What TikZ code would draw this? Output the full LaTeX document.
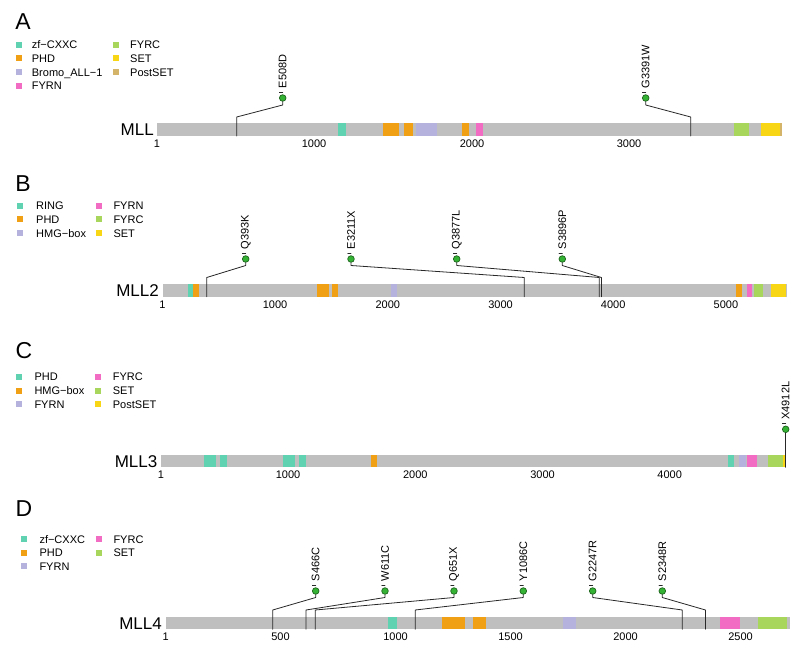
\documentclass[tikz,border=0pt]{standalone}
\usepackage{fontspec}
\setmainfont{Liberation Sans}

\definecolor{bargray}{RGB}{191,191,191}
\definecolor{dteal}{RGB}{96,210,178}
\definecolor{dorange}{RGB}{240,160,20}
\definecolor{dlav}{RGB}{182,178,222}
\definecolor{dpink}{RGB}{242,108,196}
\definecolor{dgreen}{RGB}{168,214,92}
\definecolor{dyellow}{RGB}{248,214,22}
\definecolor{dtan}{RGB}{212,180,104}
\definecolor{popfill}{RGB}{52,178,52}
\definecolor{popline}{RGB}{28,100,28}
\definecolor{stemcol}{RGB}{40,40,40}

\begin{document}
\begin{tikzpicture}[x=1pt,y=-1pt,line cap=round,line join=round,
  protbar/.style={fill=bargray},
  stem/.style={draw=stemcol,line width=0.8pt},
  pop/.style={circle,fill=popfill,draw=popline,line width=0.7pt,inner sep=0pt,minimum size=6.6pt},
  mut/.style={rotate=90,anchor=west,inner sep=0pt,font=\fontsize{11}{13}\selectfont},
  lgd/.style={anchor=base west,inner sep=0pt,font=\fontsize{11}{13}\selectfont},
  axlbl/.style={inner sep=0pt,font=\fontsize{11}{13}\selectfont},
  gene/.style={anchor=base east,inner sep=0pt,font=\fontsize{17}{20}\selectfont},
  panel/.style={inner sep=0pt,font=\fontsize{23}{26}\selectfont}]
\useasboundingbox (0,0) rectangle (800,650);

% ---------------- panel A: MLL
\node[panel] (pA) at (23,21.5) {A};
\foreach \y/\c/\t [count=\i] in {44.7/dteal/zf−CXXC, 58.4/dorange/PHD, 72.1/dlav/Bromo\_ALL−1, 85.8/dpink/FYRN}{
  \fill[\c] (16.2,\y-3) rectangle ++(6,6);
  \node[lgd] (lgA\i) at (31.7,\y+4) {\t};
}
\foreach \y/\c/\t [count=\i] in {44.7/dgreen/FYRC, 58.4/dyellow/SET, 72.1/dtan/PostSET}{
  \fill[\c] (113,\y-3) rectangle ++(6,6);
  \node[lgd] (lgAb\i) at (130,\y+4) {\t};
}

% protein bar and domains
\fill[protbar] (157,123) rectangle (782,136);
\foreach \a/\b/\c in {337.5/345.5/dteal, 382.5/398.5/dorange, 403.5/413/dorange,
    415.5/436.5/dlav, 461.5/468.5/dorange, 475.5/483/dpink, 733.5/749/dgreen,
    760.5/779.5/dyellow, 779.5/782/dtan}
  \fill[\c] (\a,123) rectangle (\b,136);
\node[gene] (gA) at (154,135.6) {MLL};
\foreach \p/\v [count=\i] in {157/1, 314/1000, 472/2000, 629/3000}
  \node[axlbl] (tA\i) at (\p,144) {\v};

% mutations
\coordinate (kA1) at (0,105);
\coordinate (kA2) at (0,117);
\foreach \n/\bx/\px/\t in {e508/236.7/282.7/E508D, g3391/690.7/645.7/G3391W}{
  \coordinate (\n-b) at (\bx,136);
  \node[pop] (\n) at (\px,98) {};
  \draw[stem] (\n-b) -- (\n-b |- kA2) -- (\n |- kA1) -- (\n);
  \draw[stem] ([xshift=-3.3pt,yshift=5.5pt]\n.center) -- ([yshift=5.5pt]\n.center);
  \node[mut] (\n-l) at ([yshift=9.5pt]\n.center) {\t};
}

% ---------------- panel B: MLL2
\node[panel] (pB) at (23,184) {B};
\foreach \y/\c/\t [count=\i] in {205.5/dteal/RING, 219.3/dorange/PHD, 233/dlav/HMG−box}{
  \fill[\c] (17.3,\y-3) rectangle ++(6,6);
  \node[lgd] (lgB\i) at (36,\y+4) {\t};
}
\foreach \y/\c/\t [count=\i] in {205.5/dpink/FYRN, 219.3/dgreen/FYRC, 233/dyellow/SET}{
  \fill[\c] (96,\y-3) rectangle ++(6,6);
  \node[lgd] (lgBb\i) at (113.3,\y+4) {\t};
}

\fill[protbar] (162.5,284) rectangle (786.5,296.7);
\foreach \a/\b/\c in {188.3/193.3/dteal, 193.3/199/dorange, 317.3/329.3/dorange,
    331.7/338.3/dorange, 391/397/dlav, 736/741.7/dorange, 746.7/752.3/dpink,
    754/763.3/dgreen, 770.7/786/dyellow}
  \fill[\c] (\a,284) rectangle (\b,296.7);
\node[gene] (gB) at (159,296.4) {MLL2};
\foreach \p/\v [count=\i] in {162.5/1, 275.1/1000, 387.8/2000, 500.5/3000, 613.2/4000, 725.9/5000}
  \node[axlbl] (tB\i) at (\p,304.5) {\v};

\coordinate (kB1) at (0,265.5);
\coordinate (kB2) at (0,277.5);
\foreach \n/\bx/\px/\t in {q393/206.7/245.7/Q393K, e3211/524.3/351/E3211X,
    q3877/599.3/456.7/Q3877L, s3896/601.4/562.3/S3896P}{
  \coordinate (\n-b) at (\bx,296.7);
  \node[pop] (\n) at (\px,259) {};
  \draw[stem] (\n-b) -- (\n-b |- kB2) -- (\n |- kB1) -- (\n);
  \draw[stem] ([xshift=-3.3pt,yshift=5.5pt]\n.center) -- ([yshift=5.5pt]\n.center);
  \node[mut] (\n-l) at ([yshift=9.5pt]\n.center) {\t};
}

% ---------------- panel C: MLL3
\node[panel] (pC) at (24,351) {C};
\foreach \y/\c/\t [count=\i] in {376.7/dteal/PHD, 390.7/dorange/HMG−box, 404.3/dlav/FYRN}{
  \fill[\c] (16.3,\y-3) rectangle ++(6,6);
  \node[lgd] (lgC\i) at (34.3,\y+4) {\t};
}
\foreach \y/\c/\t [count=\i] in {376.7/dpink/FYRC, 390.7/dgreen/SET, 404.3/dyellow/PostSET}{
  \fill[\c] (94.5,\y-3) rectangle ++(6,6);
  \node[lgd] (lgCb\i) at (112.7,\y+4) {\t};
}

\fill[protbar] (161,455) rectangle (785.7,467.3);
\foreach \a/\b/\c in {204/216/dteal, 220/226.7/dteal, 282.7/295/dteal, 299/305.7/dteal,
    371/377.3/dorange, 728.3/734/dteal, 739.3/746/dlav, 746.7/757.3/dpink,
    767.7/783.3/dgreen, 783.3/785.7/dyellow}
  \fill[\c] (\a,455) rectangle (\b,467.3);
\node[gene] (gC) at (157.5,467.1) {MLL3};
\foreach \p/\v [count=\i] in {161/1, 288.1/1000, 415.3/2000, 542.5/3000, 669.7/4000}
  \node[axlbl] (tC\i) at (\p,475) {\v};

\coordinate (x4912-b) at (785.7,467.3);
\node[pop] (x4912) at (785.7,429.3) {};
\draw[stem] (x4912-b) -- (x4912);
\draw[stem] ([xshift=-3.3pt,yshift=5.5pt]x4912.center) -- ([yshift=5.5pt]x4912.center);
\node[mut] (x4912-l) at ([yshift=9.5pt]x4912.center) {X4912L};

% ---------------- panel D: MLL4
\node[panel] (pD) at (24,508.5) {D};
\foreach \y/\c/\t [count=\i] in {539/dteal/zf−CXXC, 552.5/dorange/PHD, 566/dlav/FYRN}{
  \fill[\c] (20.7,\y-3) rectangle ++(6,6);
  \node[lgd] (lgD\i) at (39.3,\y+4) {\t};
}
\foreach \y/\c/\t [count=\i] in {539/dpink/FYRC, 552.5/dgreen/SET}{
  \fill[\c] (96,\y-3) rectangle ++(6,6);
  \node[lgd] (lgDb\i) at (113.3,\y+4) {\t};
}

\fill[protbar] (165.7,616.7) rectangle (790,629.3);
\foreach \a/\b/\c in {388/397/dteal, 441.7/465/dorange, 472.7/486/dorange,
    563.3/575.7/dlav, 720/740/dpink, 757.7/786.7/dgreen}
  \fill[\c] (\a,616.7) rectangle (\b,629.3);
\node[gene] (gD) at (162,629.1) {MLL4};
\foreach \p/\v [count=\i] in {165.7/1, 280.5/500, 395.5/1000, 510.5/1500, 625.5/2000, 740.5/2500}
  \node[axlbl] (tD\i) at (\p,637) {\v};

\coordinate (kD1) at (0,597.5);
\coordinate (kD2) at (0,610);
\foreach \n/\bx/\px/\t in {s466/272.7/315.7/S466C, w611/306/385/W611C, q651/315.2/454/Q651X,
    y1086/415.2/523.3/Y1086C, g2247/682.3/592.7/G2247R, s2348/705.5/662.3/S2348R}{
  \coordinate (\n-b) at (\bx,629.3);
  \node[pop] (\n) at (\px,591) {};
  \draw[stem] (\n-b) -- (\n-b |- kD2) -- (\n |- kD1) -- (\n);
  \draw[stem] ([xshift=-3.3pt,yshift=5.5pt]\n.center) -- ([yshift=5.5pt]\n.center);
  \node[mut] (\n-l) at ([yshift=9.5pt]\n.center) {\t};
}

\end{tikzpicture}
\end{document}
